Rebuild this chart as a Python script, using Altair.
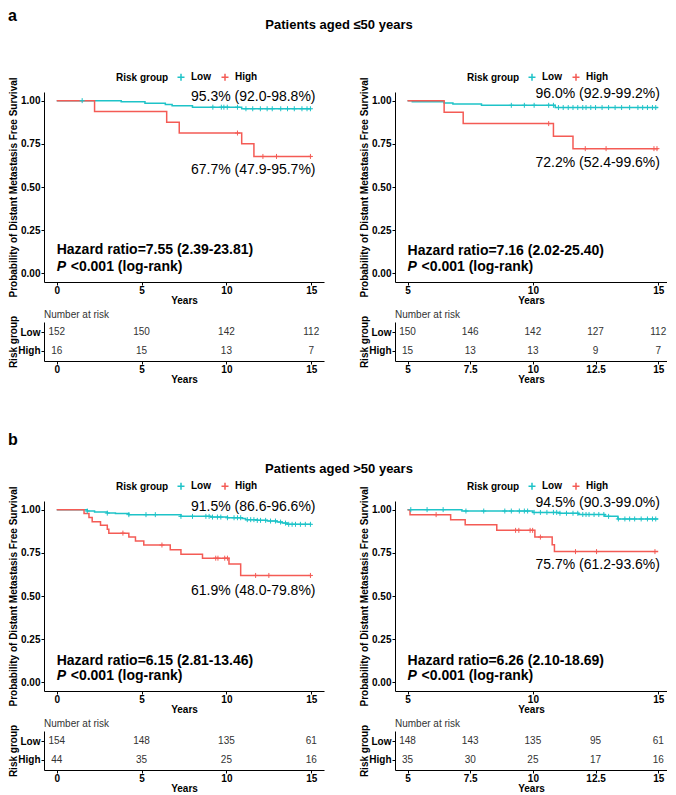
import altair as alt
import pandas as pd

FONT = "Liberation Sans"
LOW_C = "#1EC3C8"
HIGH_C = "#F45B55"
GROUPS = ["Low", "High"]
PLUS = "M0,-1V1M-1,0H1"

# ---------------- Panel a (aged <=50), overall 0-15 years ----------------
a1_low_t = [0, 3.8, 5.2, 6.4, 6.8, 8.0, 10.9, 15.0]
a1_low_s = [1.0, 0.993, 0.985, 0.978, 0.970, 0.962, 0.953, 0.953]
a1_low_c = [1.5, 9.2, 9.7, 9.85, 10.05, 10.65, 11.15, 11.55, 12.0, 12.4, 12.7,
            13.2, 13.6, 14.0, 14.45, 14.75, 14.95]
a1_high_t = [0, 2.23, 6.48, 7.22, 10.9, 11.62, 15.0]
a1_high_s = [1.0, 0.9375, 0.875, 0.8125, 0.75, 0.677, 0.677]
a1_high_c = [10.65, 12.15, 12.95, 14.95]
a1_risk_t = [0, 5, 10, 15]
a1_risk_low = [152, 150, 142, 112]
a1_risk_high = [16, 15, 13, 7]
a1_text = ["95.3% (92.0-98.8%)", "67.7% (47.9-95.7%)", "Hazard ratio=7.55 (2.39-23.81)"]

# ---------------- Panel a (aged <=50), conditional from 5 years ----------------
a2_low_t = [5, 5.19, 6.46, 6.81, 7.95, 10.89, 15.0]
a2_low_s = [1.0, 0.993, 0.987, 0.980, 0.973, 0.960, 0.960]
a2_low_c = [9.14, 9.66, 10.05, 10.63, 10.82, 11.02, 11.21, 11.41, 11.6, 11.79, 11.99,
            12.12, 12.31, 12.5, 12.76, 13.02, 13.28, 13.54, 13.86, 14.19, 14.38,
            14.57, 14.77, 14.9]
a2_high_t = [5, 6.46, 7.22, 10.82, 11.6, 15.0]
a2_high_s = [1.0, 0.933, 0.867, 0.794, 0.722, 0.722]
a2_high_c = [10.63, 12.09, 12.92, 14.83, 14.95]
a2_risk_t = [5, 7.5, 10, 12.5, 15]
a2_risk_low = [150, 146, 142, 127, 112]
a2_risk_high = [15, 13, 13, 9, 7]
a2_text = ["96.0% (92.9-99.2%)", "72.2% (52.4-99.6%)", "Hazard ratio=7.16 (2.02-25.40)"]

# ---------------- Panel b (aged >50), overall 0-15 years ----------------
b1_low_t = [0, 1.80, 2.23, 2.98, 3.46, 4.25, 7.32, 9.08, 10.06, 10.94, 11.13, 11.82,
            12.41, 12.99, 13.29, 13.58, 15.0]
b1_low_s = [1.0, 0.992, 0.986, 0.980, 0.977, 0.971, 0.961, 0.957, 0.953, 0.948, 0.942,
            0.938, 0.934, 0.928, 0.922, 0.915, 0.915]
b1_low_c = [1.8, 2.98, 4.25, 5.26, 5.81, 7.32, 8.0, 8.79, 8.98, 9.18, 9.47, 9.67, 10.06,
            10.45, 10.65, 10.84, 11.23, 11.43, 11.62, 11.82, 12.01, 12.31, 12.6, 12.89,
            13.19, 13.48, 13.67, 13.87, 14.07, 14.36, 14.65, 14.95]
b1_high_t = [0, 1.61, 1.90, 2.09, 2.58, 2.98, 3.07, 4.25, 4.64, 5.13, 6.69, 7.32, 8.59,
             10.15, 10.84, 15.0]
b1_high_s = [1.0, 0.977, 0.954, 0.930, 0.909, 0.886, 0.864, 0.841, 0.818, 0.795, 0.768,
             0.742, 0.719, 0.685, 0.619, 0.619]
b1_high_c = [3.9, 6.2, 9.37, 9.5, 9.9, 10.06, 11.72, 12.5, 14.95]
b1_risk_t = [0, 5, 10, 15]
b1_risk_low = [154, 148, 135, 61]
b1_risk_high = [44, 35, 25, 16]
b1_text = ["91.5% (86.6-96.6%)", "61.9% (48.0-79.8%)", "Hazard ratio=6.15 (2.81-13.46)"]

# ---------------- Panel b (aged >50), conditional from 5 years ----------------
b2_low_t = [5, 7.17, 10.0, 11.06, 11.83, 12.87, 13.39, 15.0]
b2_low_s = [1.0, 0.992, 0.984, 0.979, 0.972, 0.961, 0.946, 0.946]
b2_low_c = [5.13, 5.78, 6.42, 7.33, 8.04, 8.88, 9.14, 9.46, 9.66, 9.79, 10.05, 10.3,
            10.56, 10.82, 10.95, 11.08, 11.34, 11.6, 11.79, 11.99, 12.12, 12.24, 12.44,
            12.63, 12.83, 13.02, 13.41, 13.67, 13.86, 14.06, 14.32, 14.57, 14.77, 14.9]
b2_high_t = [5, 5.1, 6.72, 7.3, 8.56, 10.08, 10.77, 10.86, 15.0]
b2_high_s = [1.0, 0.971, 0.942, 0.913, 0.880, 0.841, 0.797, 0.757, 0.757]
b2_high_c = [6.14, 9.31, 9.44, 9.89, 9.99, 10.3, 11.7, 12.54, 14.87]
b2_risk_t = [5, 7.5, 10, 12.5, 15]
b2_risk_low = [148, 143, 135, 95, 61]
b2_risk_high = [35, 30, 25, 17, 16]
b2_text = ["94.5% (90.3-99.0%)", "75.7% (61.2-93.6%)", "Hazard ratio=6.26 (2.10-18.69)"]

P_TEXT = "<0.001 (log-rank)"
TITLE_A = "Patients aged \u226450 years"
TITLE_B = "Patients aged >50 years"


def step_at(times, surv, t):
    v = surv[0]
    for ti, si in zip(times, surv):
        if ti <= t:
            v = si
    return v


def curve_df(tl, sl, th, sh):
    rows = [{"group": "Low", "time": t, "surv": s} for t, s in zip(tl, sl)]
    rows += [{"group": "High", "time": t, "surv": s} for t, s in zip(th, sh)]
    return pd.DataFrame(rows)


def censor_df(tl, sl, cl, th, sh, ch):
    rows = [{"group": "Low", "time": c, "surv": step_at(tl, sl, c)} for c in cl]
    rows += [{"group": "High", "time": c, "surv": step_at(th, sh, c)} for c in ch]
    return pd.DataFrame(rows)


def risk_df(ts, low, high):
    rows = [{"group": "Low", "time": t, "n": n} for t, n in zip(ts, low)]
    rows += [{"group": "High", "time": t, "n": n} for t, n in zip(ts, high)]
    return pd.DataFrame(rows)


DUMMY = pd.DataFrame({"k": [0]})


def txt(x, y, s, **kw):
    return alt.Chart(DUMMY).mark_text(font=FONT, color="black", **kw).encode(
        x=alt.datum(x), y=alt.datum(y), text=alt.value(s))


def km(curves, cens, width, xdom, xticks, texts, pct_y, x_right, x_left, hr_y, p_y):
    xs = alt.Scale(domain=xdom, nice=False, zero=False)
    ys = alt.Scale(domain=[-0.05, 1.05], nice=False, zero=False)
    cs = alt.Scale(domain=GROUPS, range=[LOW_C, HIGH_C])
    X = alt.X("time:Q", scale=xs,
              axis=alt.Axis(values=xticks, format=".3~g", title="Years",
                            labelPadding=0, titlePadding=0))
    Y = alt.Y("surv:Q", scale=ys,
              axis=alt.Axis(values=[0, 0.25, 0.5, 0.75, 1.0], format=".2f",
                            title="Probability of Distant Metastasis Free Survival",
                            minExtent=25, maxExtent=25, titlePadding=1, labelPadding=1))
    line = alt.Chart(curves).mark_line(interpolate="step-after", strokeWidth=1.5).encode(
        x=X, y=Y,
        color=alt.Color("group:N", scale=cs, legend=alt.Legend(
            title="Risk group", orient="none", legendX=72, legendY=-20,
            direction="horizontal", titleOrient="left", symbolType=PLUS,
            symbolSize=49, symbolStrokeWidth=1.5, labelFontSize=10,
            labelFontWeight="bold", titleFontSize=10, titleFontWeight="bold",
            labelColor="black", titleColor="black", labelFont=FONT, titleFont=FONT,
            padding=0, columnPadding=7, labelOffset=5, titlePadding=7)))
    pts = alt.Chart(cens).mark_point(shape=PLUS, filled=False, size=25, strokeWidth=1,
                                     opacity=1).encode(
        x="time:Q", y="surv:Q",
        color=alt.Color("group:N", scale=cs, legend=None))
    layers = [
        line, pts,
        txt(x_right, pct_y[0], texts[0], align="right", baseline="middle", fontSize=14),
        txt(x_right, pct_y[1], texts[1], align="right", baseline="middle", fontSize=14),
        txt(x_left, hr_y, texts[2], align="left", baseline="middle", fontSize=14,
            fontWeight="bold"),
        txt(x_left, p_y, "P", align="left", baseline="middle", fontSize=14,
            fontWeight="bold", fontStyle="italic"),
        txt(x_left, p_y, P_TEXT, align="left", baseline="middle", fontSize=14,
            fontWeight="bold", dx=14),
    ]
    return alt.layer(*layers).properties(width=width, height=190)


def risk(df, width, xdom, xticks):
    return alt.Chart(df).mark_text(font=FONT, fontSize=10, color="#333").encode(
        x=alt.X("time:Q", scale=alt.Scale(domain=xdom, nice=False, zero=False),
                axis=alt.Axis(values=xticks, format=".3~g", title="Years",
                              labelPadding=0, titlePadding=0)),
        y=alt.Y("group:N", sort=GROUPS, scale=alt.Scale(padding=0.58),
                axis=alt.Axis(title="Risk group", minExtent=25, maxExtent=25,
                              titlePadding=1, labelPadding=1)),
        text=alt.Text("n:Q"),
    ).properties(width=width, height=39,
                 title=alt.TitleParams("Number at risk", anchor="start", frame="group",
                                       fontSize=10, fontWeight="normal", color="#333",
                                       offset=-5, font=FONT))


def header(letter, title, h, ly, ty):
    a = alt.Chart(DUMMY).mark_text(align="left", baseline="middle", fontSize=16,
                                   fontWeight="bold", font=FONT, color="black").encode(
        x=alt.value(-36), y=alt.value(ly), text=alt.value(letter))
    t = alt.Chart(DUMMY).mark_text(align="center", baseline="middle", fontSize=13,
                                   fontWeight="bold", font=FONT, color="black").encode(
        x=alt.value(295), y=alt.value(ty), text=alt.value(title))
    return alt.layer(a, t).properties(width=600, height=h)


WL, WR = 280, 272
DOM_L, DOM_R = [-0.75, 15.75], [4.5, 15.35]
TK_L, TK_R, TK_R2 = [0, 5, 10, 15], [5, 10, 15], [5, 7.5, 10, 12.5, 15]

km_a1 = km(curve_df(a1_low_t, a1_low_s, a1_high_t, a1_high_s),
           censor_df(a1_low_t, a1_low_s, a1_low_c, a1_high_t, a1_high_s, a1_high_c),
           WL, DOM_L, TK_L, a1_text, [1.023, 0.60], 15.25, 0, 0.134, 0.039)
km_a2 = km(curve_df(a2_low_t, a2_low_s, a2_high_t, a2_high_s),
           censor_df(a2_low_t, a2_low_s, a2_low_c, a2_high_t, a2_high_s, a2_high_c),
           WR, DOM_R, TK_R, a2_text, [1.039, 0.639], 15.07, 5, 0.129, 0.035)
km_b1 = km(curve_df(b1_low_t, b1_low_s, b1_high_t, b1_high_s),
           censor_df(b1_low_t, b1_low_s, b1_low_c, b1_high_t, b1_high_s, b1_high_c),
           WL, DOM_L, TK_L, b1_text, [1.015, 0.531], 15.25, 0, 0.126, 0.039)
km_b2 = km(curve_df(b2_low_t, b2_low_s, b2_high_t, b2_high_s),
           censor_df(b2_low_t, b2_low_s, b2_low_c, b2_high_t, b2_high_s, b2_high_c),
           WR, DOM_R, TK_R, b2_text, [1.039, 0.678], 15.07, 5, 0.126, 0.039)

rk_a1 = risk(risk_df(a1_risk_t, a1_risk_low, a1_risk_high), WL, DOM_L, TK_L)
rk_a2 = risk(risk_df(a2_risk_t, a2_risk_low, a2_risk_high), WR, DOM_R, TK_R2)
rk_b1 = risk(risk_df(b1_risk_t, b1_risk_low, b1_risk_high), WL, DOM_L, TK_L)
rk_b2 = risk(risk_df(b2_risk_t, b2_risk_low, b2_risk_high), WR, DOM_R, TK_R2)


def row(c1, c2):
    return alt.hconcat(c1, c2, spacing=35).resolve_scale(
        color="independent", x="independent", y="independent").resolve_legend(
        color="independent")


chart = alt.vconcat(
    header("a", TITLE_A, 59, 8, 17),
    row(km_a1, km_a2),
    row(rk_a1, rk_a2),
    header("b", TITLE_B, 87, 51, 80),
    row(km_b1, km_b2),
    row(rk_b1, rk_b2),
    spacing=5,
).resolve_scale(color="independent").resolve_legend(color="independent").properties(
    padding=0
).configure_view(stroke=None).configure_axis(
    grid=False, domainColor="black", tickColor="black", labelColor="black",
    titleColor="black", labelFont=FONT, titleFont=FONT, labelFontWeight="bold",
    titleFontWeight="bold", labelFontSize=10, titleFontSize=10, tickSize=3,
    domainWidth=1, tickWidth=1
).configure_text(font=FONT)

chart.save("out.html", embed_options={"renderer": "svg", "actions": False})
